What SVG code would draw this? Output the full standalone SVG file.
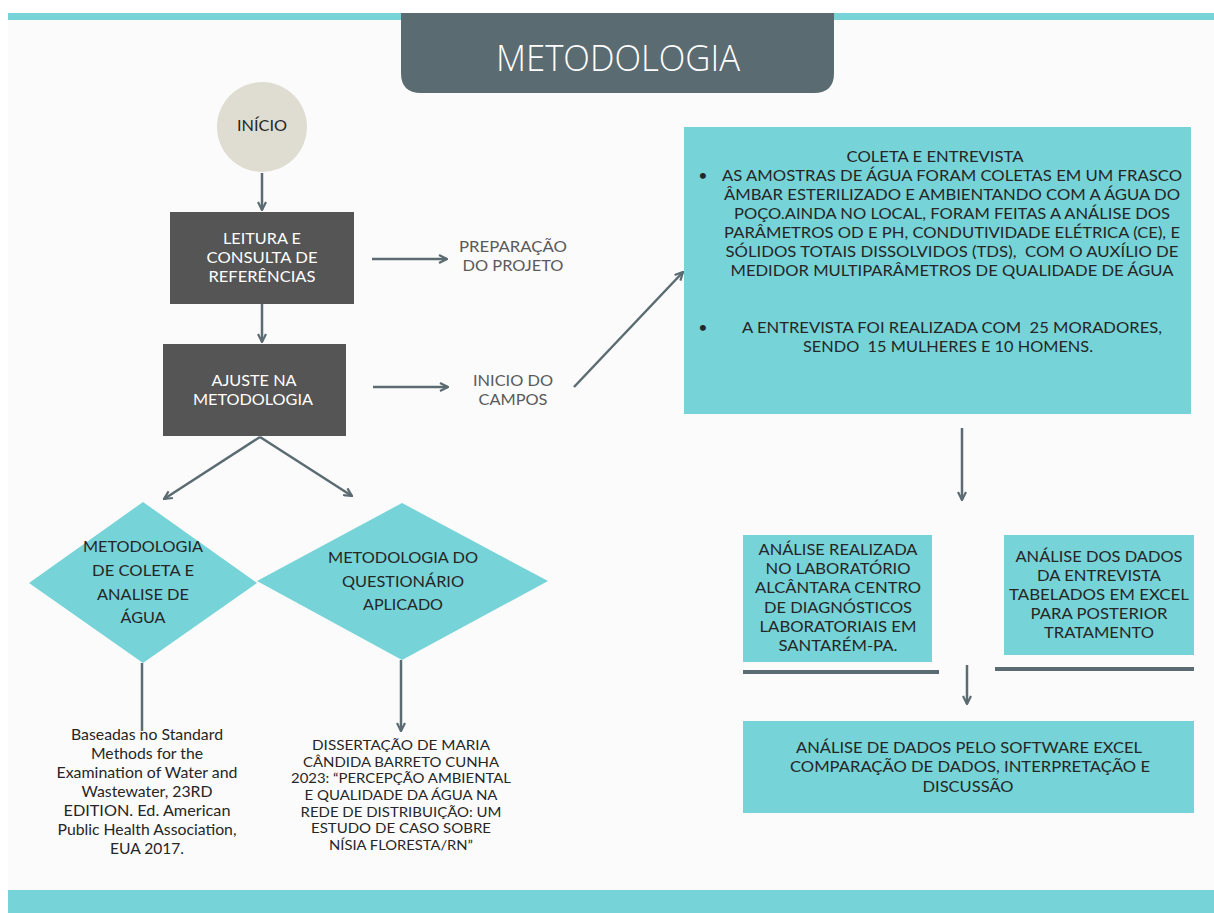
<svg xmlns="http://www.w3.org/2000/svg" width="1214" height="913" viewBox="0 0 1214 913">
<style>
.t{font-family:Lato,"Open Sans","Liberation Sans",sans-serif;fill:#262626;text-anchor:middle}
.w{font-family:Lato,"Open Sans","Liberation Sans",sans-serif;fill:#ffffff;text-anchor:middle;font-size:16px}
.g{font-family:Lato,"Open Sans","Liberation Sans",sans-serif;fill:#5a5a5a;text-anchor:middle;font-size:16px}
.teal{fill:#76d3d8}
.dark{fill:#555555}
.c{stroke:#5b6b72;stroke-width:2.5;fill:none}
</style>
<defs>
<marker id="ah" viewBox="0 0 10 10" refX="9" refY="5" markerWidth="4" markerHeight="4" orient="auto" markerUnits="strokeWidth">
<path d="M1,1 L9,5 L1,9" fill="none" stroke="#5b6b72" stroke-width="2.2"/>
</marker>
</defs>
<rect x="0" y="0" width="1214" height="913" fill="#ffffff"/>
<rect x="8" y="20" width="1206" height="870" fill="#fbfbfb"/>
<rect x="8" y="13" width="1206" height="7" class="teal"/>
<rect x="8" y="890" width="1206" height="23" class="teal"/>

<g id="title">
<path d="M401,13 H834 V73 Q834,93 814,93 H421 Q401,93 401,73 Z" fill="#5b6b72"/>
<text x="618" y="71" font-family="'Open Sans','Liberation Sans',sans-serif" font-weight="300" font-size="36" fill="#ffffff" text-anchor="middle" textLength="244" lengthAdjust="spacingAndGlyphs">METODOLOGIA</text>
</g>

<g id="connectors">
<line class="c" x1="262" y1="173" x2="262" y2="210" marker-end="url(#ah)"/>
<line class="c" x1="262" y1="304" x2="262" y2="342" marker-end="url(#ah)"/>
<line class="c" x1="372" y1="259" x2="447" y2="259" marker-end="url(#ah)"/>
<line class="c" x1="373" y1="387" x2="448" y2="387" marker-end="url(#ah)"/>
<line class="c" x1="574" y1="387" x2="683" y2="272" marker-end="url(#ah)"/>
<line class="c" x1="260" y1="437" x2="164" y2="499" marker-end="url(#ah)"/>
<line class="c" x1="260" y1="437" x2="352" y2="496" marker-end="url(#ah)"/>
<line class="c" x1="142" y1="663" x2="142" y2="731"/>
<line class="c" x1="401" y1="660" x2="401" y2="731" marker-end="url(#ah)"/>
<line class="c" x1="962" y1="428" x2="962" y2="500" marker-end="url(#ah)"/>
<line class="c" x1="967" y1="665" x2="967" y2="704" marker-end="url(#ah)"/>
<line x1="743" y1="672" x2="939" y2="672" stroke="#5b6b72" stroke-width="4"/>
<line x1="995" y1="669" x2="1194" y2="669" stroke="#5b6b72" stroke-width="4"/>
</g>

<g id="inicio">
<circle cx="262" cy="127" r="45" fill="#dfddd1"/>
<text class="t" x="262" y="131" font-size="16" textLength="50" lengthAdjust="spacingAndGlyphs">INÍCIO</text>
</g>

<g id="leitura">
<rect x="170" y="212" width="184" height="92" class="dark"/>
<text class="w" x="262" y="244" textLength="78" lengthAdjust="spacingAndGlyphs">LEITURA E</text>
<text class="w" x="262" y="263" textLength="111" lengthAdjust="spacingAndGlyphs">CONSULTA DE</text>
<text class="w" x="262" y="282" textLength="107" lengthAdjust="spacingAndGlyphs">REFERÊNCIAS</text>
</g>

<g id="ajuste">
<rect x="163" y="344" width="183" height="92" class="dark"/>
<text class="w" x="254" y="386" textLength="85" lengthAdjust="spacingAndGlyphs">AJUSTE NA</text>
<text class="w" x="253" y="405" textLength="120" lengthAdjust="spacingAndGlyphs">METODOLOGIA</text>
</g>

<g id="preparacao">
<text class="g" x="513" y="252" textLength="108" lengthAdjust="spacingAndGlyphs">PREPARAÇÃO</text>
<text class="g" x="513" y="271" textLength="101" lengthAdjust="spacingAndGlyphs">DO PROJETO</text>
</g>

<g id="inicio-campos">
<text class="g" x="513" y="386" textLength="80" lengthAdjust="spacingAndGlyphs">INICIO DO</text>
<text class="g" x="513" y="405" textLength="69" lengthAdjust="spacingAndGlyphs">CAMPOS</text>
</g>

<g id="coleta">
<rect x="684" y="127" width="507" height="287" class="teal"/>
<g class="t" font-size="16">
<text x="935" y="162" textLength="177" lengthAdjust="spacingAndGlyphs">COLETA E ENTREVISTA</text>
<text x="952" y="181" textLength="460" lengthAdjust="spacingAndGlyphs">AS AMOSTRAS DE ÁGUA FORAM COLETAS EM UM FRASCO</text>
<text x="952" y="200" textLength="456" lengthAdjust="spacingAndGlyphs">ÂMBAR ESTERILIZADO E AMBIENTANDO COM A ÁGUA DO</text>
<text x="952" y="219" textLength="436" lengthAdjust="spacingAndGlyphs">POÇO.AINDA NO LOCAL, FORAM FEITAS A ANÁLISE DOS</text>
<text x="952" y="238" textLength="456" lengthAdjust="spacingAndGlyphs">PARÂMETROS OD E PH, CONDUTIVIDADE ELÉTRICA (CE), E</text>
<text x="952" y="257" textLength="453" lengthAdjust="spacingAndGlyphs" xml:space="preserve">SÓLIDOS TOTAIS DISSOLVIDOS (TDS),  COM O AUXÍLIO DE</text>
<text x="952" y="276" textLength="443" lengthAdjust="spacingAndGlyphs">MEDIDOR MULTIPARÂMETROS DE QUALIDADE DE ÁGUA</text>
<text x="952" y="333" textLength="420" lengthAdjust="spacingAndGlyphs" xml:space="preserve">A ENTREVISTA FOI REALIZADA COM  25 MORADORES,</text>
<text x="948" y="352" textLength="290" lengthAdjust="spacingAndGlyphs" xml:space="preserve">SENDO  15 MULHERES E 10 HOMENS.</text>
<text x="703" y="181">•</text>
<text x="703" y="333">•</text>
</g>
</g>

<g id="diamante-coleta">
<polygon points="143,502 257,583 143,663 29,583" class="teal"/>
<g class="t" font-size="16">
<text x="143" y="552" textLength="120" lengthAdjust="spacingAndGlyphs">METODOLOGIA</text>
<text x="143" y="576" textLength="102" lengthAdjust="spacingAndGlyphs">DE COLETA E</text>
<text x="143" y="600" textLength="92" lengthAdjust="spacingAndGlyphs">ANALISE DE</text>
<text x="143" y="623" textLength="45" lengthAdjust="spacingAndGlyphs">ÁGUA</text>
</g>
</g>

<g id="diamante-questionario">
<polygon points="402,503 548,581 402,660 257,581" class="teal"/>
<g class="t" font-size="16">
<text x="403" y="563" textLength="150" lengthAdjust="spacingAndGlyphs">METODOLOGIA DO</text>
<text x="403" y="587" textLength="122" lengthAdjust="spacingAndGlyphs">QUESTIONÁRIO</text>
<text x="403" y="610" textLength="80" lengthAdjust="spacingAndGlyphs">APLICADO</text>
</g>
</g>

<g id="ref-standard" class="t" font-size="16">
<text x="147" y="740" textLength="152" lengthAdjust="spacingAndGlyphs">Baseadas no Standard</text>
<text x="147" y="759" textLength="112" lengthAdjust="spacingAndGlyphs">Methods for the</text>
<text x="147" y="778" textLength="181" lengthAdjust="spacingAndGlyphs">Examination of Water and</text>
<text x="147" y="797" textLength="131" lengthAdjust="spacingAndGlyphs">Wastewater, 23RD</text>
<text x="147" y="816" textLength="167" lengthAdjust="spacingAndGlyphs">EDITION. Ed. American</text>
<text x="147" y="835" textLength="179" lengthAdjust="spacingAndGlyphs">Public Health Association,</text>
<text x="147" y="854" textLength="74" lengthAdjust="spacingAndGlyphs">EUA 2017.</text>
</g>

<g id="ref-dissertacao" class="t" font-size="14">
<text x="401" y="750" textLength="178" lengthAdjust="spacingAndGlyphs">DISSERTAÇÃO DE MARIA</text>
<text x="401" y="767" textLength="196" lengthAdjust="spacingAndGlyphs">CÂNDIDA BARRETO CUNHA</text>
<text x="401" y="783" textLength="220" lengthAdjust="spacingAndGlyphs">2023: “PERCEPÇÃO AMBIENTAL</text>
<text x="401" y="800" textLength="193" lengthAdjust="spacingAndGlyphs">E QUALIDADE DA ÁGUA NA</text>
<text x="401" y="817" textLength="201" lengthAdjust="spacingAndGlyphs">REDE DE DISTRIBUIÇÃO: UM</text>
<text x="401" y="833" textLength="180" lengthAdjust="spacingAndGlyphs">ESTUDO DE CASO SOBRE</text>
<text x="401" y="850" textLength="144" lengthAdjust="spacingAndGlyphs">NÍSIA FLORESTA/RN”</text>
</g>

<g id="analise-laboratorio">
<rect x="743" y="535" width="189" height="127" class="teal"/>
<g class="t" font-size="16">
<text x="838" y="555" textLength="159" lengthAdjust="spacingAndGlyphs">ANÁLISE REALIZADA</text>
<text x="838" y="574" textLength="145" lengthAdjust="spacingAndGlyphs">NO LABORATÓRIO</text>
<text x="838" y="593" textLength="166" lengthAdjust="spacingAndGlyphs">ALCÂNTARA CENTRO</text>
<text x="838" y="613" textLength="148" lengthAdjust="spacingAndGlyphs">DE DIAGNÓSTICOS</text>
<text x="838" y="632" textLength="157" lengthAdjust="spacingAndGlyphs">LABORATORIAIS EM</text>
<text x="838" y="651" textLength="119" lengthAdjust="spacingAndGlyphs">SANTARÉM-PA.</text>
</g>
</g>

<g id="analise-entrevista">
<rect x="1004" y="535" width="190" height="120" class="teal"/>
<g class="t" font-size="16">
<text x="1099" y="562" textLength="167" lengthAdjust="spacingAndGlyphs">ANÁLISE DOS DADOS</text>
<text x="1099" y="581" textLength="124" lengthAdjust="spacingAndGlyphs">DA ENTREVISTA</text>
<text x="1099" y="600" textLength="180" lengthAdjust="spacingAndGlyphs">TABELADOS EM EXCEL</text>
<text x="1099" y="619" textLength="137" lengthAdjust="spacingAndGlyphs">PARA POSTERIOR</text>
<text x="1099" y="638" textLength="110" lengthAdjust="spacingAndGlyphs">TRATAMENTO</text>
</g>
</g>

<g id="analise-final">
<rect x="743" y="721" width="451" height="92" class="teal"/>
<g class="t" font-size="16">
<text x="969" y="753" textLength="346" lengthAdjust="spacingAndGlyphs">ANÁLISE DE DADOS PELO SOFTWARE EXCEL</text>
<text x="970" y="772" textLength="360" lengthAdjust="spacingAndGlyphs">COMPARAÇÃO DE DADOS, INTERPRETAÇÃO E</text>
<text x="968" y="792" textLength="91" lengthAdjust="spacingAndGlyphs">DISCUSSÃO</text>
</g>
</g>
</svg>
